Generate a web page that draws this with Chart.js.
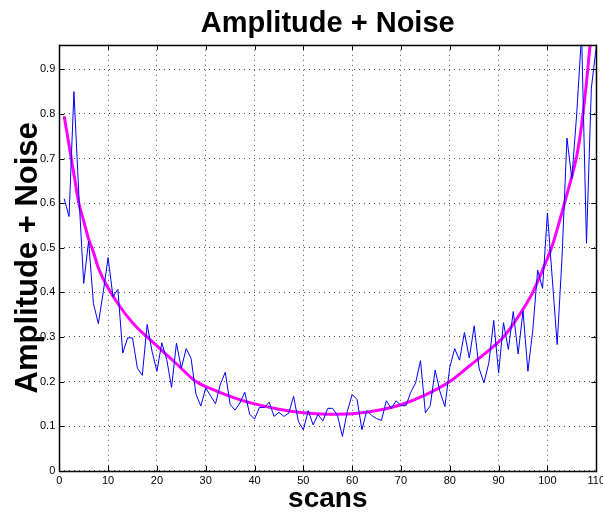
<!DOCTYPE html>
<html>
<head>
<meta charset="utf-8">
<script src="https://cdn.jsdelivr.net/npm/chart.js@4/dist/chart.umd.min.js"></script>
<style>
  html, body { margin: 0; padding: 0; background: #fff; overflow: hidden; }
  /* a little wider than the window so the "110" label may run off the edge */
  #wrap { width: 609px; height: 513px; }
</style>
</head>
<body>
<div id="wrap"><canvas id="noiseChart"></canvas></div>
<script>
// scan index for the noisy trace
const scans = [
  1, 2, 3, 4, 5, 6, 7, 8, 9, 10, 11, 12, 13, 14, 15, 16, 17, 18, 19, 20,
  21, 22, 23, 24, 25, 26, 27, 28, 29, 30, 31, 32, 33, 34, 35, 36, 37, 38, 39, 40,
  41, 42, 43, 44, 45, 46, 47, 48, 49, 50, 51, 52, 53, 54, 55, 56, 57, 58, 59, 60,
  61, 62, 63, 64, 65, 66, 67, 68, 69, 70, 71, 72, 73, 74, 75, 76, 77, 78, 79, 80,
  81, 82, 83, 84, 85, 86, 87, 88, 89, 90, 91, 92, 93, 94, 95, 96, 97, 98, 99, 100,
  101, 102, 103, 104, 105, 106, 107, 108, 109, 110
];
const noisy = [
  0.61, 0.57, 0.85, 0.62, 0.42, 0.515, 0.375, 0.33, 0.40, 0.478,
  0.39, 0.407, 0.264, 0.298, 0.298, 0.23, 0.214, 0.328, 0.268, 0.223,
  0.287, 0.25, 0.187, 0.286, 0.23, 0.274, 0.252, 0.172, 0.145, 0.186,
  0.168, 0.15, 0.194, 0.221, 0.149, 0.136, 0.152, 0.176, 0.127, 0.116,
  0.142, 0.142, 0.154, 0.122, 0.131, 0.122, 0.129, 0.167, 0.11, 0.092,
  0.135, 0.103, 0.126, 0.112, 0.14, 0.14, 0.124, 0.077, 0.133, 0.171,
  0.16, 0.092, 0.135, 0.124, 0.117, 0.113, 0.157, 0.14, 0.157, 0.146,
  0.146, 0.176, 0.197, 0.247, 0.13, 0.146, 0.226, 0.177, 0.144, 0.232,
  0.274, 0.248, 0.31, 0.253, 0.325, 0.23, 0.197, 0.242, 0.337, 0.219,
  0.332, 0.272, 0.357, 0.262, 0.358, 0.223, 0.315, 0.45, 0.409, 0.578,
  0.43, 0.283, 0.48, 0.746, 0.655, 0.80, 0.98, 0.51, 0.858, 0.95
];

// smooth amplitude envelope (magenta)
const fitScans = [
  1, 2, 3, 4, 5, 6, 7, 8, 9, 10, 12, 14, 16, 18, 20, 24, 28, 32, 36, 40,
  45, 50, 55, 60, 65, 70, 75, 80, 84, 88, 91, 94, 97, 99, 101, 103, 104,
  105, 106, 107, 108, 109
];
const fitValues = [
  0.795, 0.73, 0.665, 0.60, 0.56, 0.52, 0.49, 0.455, 0.43, 0.41, 0.375, 0.345,
  0.32, 0.30, 0.28, 0.24, 0.20, 0.18, 0.163, 0.15,
  0.138, 0.13, 0.127, 0.128, 0.135, 0.148, 0.17, 0.20, 0.235, 0.27, 0.30,
  0.345, 0.40, 0.45, 0.505, 0.58, 0.62,
  0.66, 0.705, 0.775, 0.87, 0.985
];

const xTicks = [0, 10, 20, 30, 40, 50, 60, 70, 80, 90, 100, 110];
const yTicks = [0, 0.1, 0.2, 0.3, 0.4, 0.5, 0.6, 0.7, 0.8, 0.9];

const FONT = '"Liberation Sans", Arial, Helvetica, sans-serif';

// box around the axes with inward tick marks, like the original plot
const axesFrame = {
  id: 'axesFrame',
  afterDatasetsDraw(chart) {
    const { ctx, chartArea: a, scales: { x, y } } = chart;
    ctx.save();
    ctx.strokeStyle = '#000';
    ctx.lineWidth = 1;
    ctx.beginPath();
    x.ticks.forEach(t => {
      const px = Math.round(x.getPixelForValue(t.value)) + 0.5;
      ctx.moveTo(px, a.bottom); ctx.lineTo(px, a.bottom - 5);
      ctx.moveTo(px, a.top); ctx.lineTo(px, a.top + 5);
    });
    y.ticks.forEach(t => {
      const py = Math.round(y.getPixelForValue(t.value)) + 0.5;
      ctx.moveTo(a.left, py); ctx.lineTo(a.left + 5, py);
      ctx.moveTo(a.right, py); ctx.lineTo(a.right - 5, py);
    });
    ctx.stroke();
    ctx.lineWidth = 1.5;
    ctx.strokeRect(Math.round(a.left) + 0.5, Math.round(a.top) + 0.5,
      Math.round(a.right - a.left), Math.round(a.bottom - a.top));
    ctx.restore();
  }
};

const ctx = document.getElementById('noiseChart').getContext('2d');
new Chart(ctx, {
  type: 'line',
  data: {
    datasets: [
      {
        label: 'noise',
        data: scans.map((s, i) => ({ x: s, y: noisy[i] })),
        borderColor: '#0000ff',
        borderWidth: 1,
        pointRadius: 0,
        tension: 0
      },
      {
        label: 'amplitude',
        data: fitScans.map((s, i) => ({ x: s, y: fitValues[i] })),
        borderColor: '#ff00ff',
        borderWidth: 3,
        pointRadius: 0,
        cubicInterpolationMode: 'monotone'
      }
    ]
  },
  options: {
    responsive: true,
    maintainAspectRatio: false,
    animation: false,
    events: [],
    layout: { padding: { left: 13, right: 0, top: 0, bottom: 0 } },
    plugins: {
      legend: { display: false },
      tooltip: { enabled: false },
      title: {
        display: true,
        fullSize: false,
        text: 'Amplitude + Noise',
        color: '#000',
        font: { family: FONT, size: 29, weight: 'bold', lineHeight: 1.2 },
        padding: { top: 7, bottom: 3 }
      }
    },
    scales: {
      x: {
        type: 'linear',
        min: 0,
        max: 110,
        afterBuildTicks: (scale) => { scale.ticks = xTicks.map(v => ({ value: v })); },
        grid: { color: 'rgba(0,0,0,0.7)', drawTicks: false, lineWidth: 1 },
        border: { display: false, dash: [1, 4] },
        ticks: {
          color: '#000',
          padding: 4,
          maxRotation: 0,
          font: { family: FONT, size: 11 },
          callback: (v) => String(v)
        },
        title: {
          display: true,
          text: 'scans',
          color: '#000',
          font: { family: FONT, size: 28, weight: 'bold', lineHeight: 1 },
          padding: { top: -7, bottom: 0 }
        }
      },
      y: {
        type: 'linear',
        min: 0,
        max: 0.955,
        afterBuildTicks: (scale) => { scale.ticks = yTicks.map(v => ({ value: v })); },
        grid: { color: 'rgba(0,0,0,0.7)', drawTicks: false, lineWidth: 1 },
        border: { display: false, dash: [1, 4] },
        ticks: {
          color: '#000',
          padding: 4,
          font: { family: FONT, size: 11 },
          callback: (v) => (v === 0 ? '0' : v.toFixed(1))
        },
        title: {
          display: true,
          text: 'Amplitude + Noise',
          color: '#000',
          font: { family: FONT, size: 31, weight: 'bold', lineHeight: 1 },
          padding: { top: 0, bottom: -8 }
        }
      }
    }
  },
  plugins: [axesFrame]
});
</script>
</body>
</html>
